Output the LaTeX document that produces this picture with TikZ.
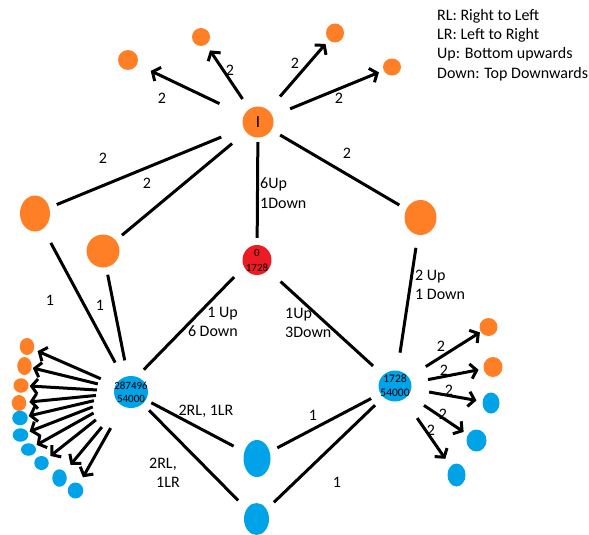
\documentclass[tikz,border=0pt]{standalone}
\usepackage{fontspec}
\setmainfont{Carlito}
\usetikzlibrary{shapes.geometric,arrows.meta}
\definecolor{orng}{RGB}{255,127,39}
\definecolor{blu}{RGB}{0,162,232}
\definecolor{rd}{RGB}{237,28,36}
\begin{document}
\begin{tikzpicture}[x=1pt,y=-1pt,
  blob/.style 2 args={ellipse, draw=none, inner sep=0pt, minimum width=#1pt, minimum height=#2pt},
  onode/.style 2 args={blob={#1}{#2}, fill=orng},
  bnode/.style 2 args={blob={#1}{#2}, fill=blu},
  rnode/.style 2 args={blob={#1}{#2}, fill=rd},
  ln/.style={line width=3pt, black},
  arr/.style={ln, -{Straight Barb[length=6pt,width=15pt]}},
  lbl/.style={inner sep=0pt, font=\fontsize{16}{19.5}\selectfont, align=left},
  numtxt/.style={inner sep=0pt, align=center, font=\fontsize{11}{13}\selectfont}
]
\useasboundingbox (0,0) rectangle (589,535);

% legend
\node[lbl, anchor=north west, font=\fontsize{16}{19.3}\selectfont] (legend) at (437,9)
  {RL: Right to Left\\LR: Left to Right\\Up: Bottom upwards\\Down: Top Downwards};

% main nodes
\node[onode={31}{31}, font=\fontsize{17}{17}\selectfont] (I) at (258,122) {I};
\node[onode={20}{20}] (T1) at (128,60) {};
\node[onode={18}{18}] (T2) at (201,37) {};
\node[onode={18}{19}] (T3) at (335,33) {};
\node[onode={18}{17}] (T4) at (392,67) {};
\node[onode={30}{36}] (LO1) at (35,213.5) {};
\node[onode={33}{33}] (LO2) at (103,251) {};
\node[onode={32}{35}] (RO) at (420.5,217.5) {};
\node[rnode={29}{30}, label={[numtxt, font=\fontsize{11}{15}\selectfont]center:0\\1728}] (R) at (257,260) {};
\node[bnode={34}{32}, label={[numtxt]center:287496\\54000}] (LH) at (131,392) {};
\node[bnode={33}{31}, label={[numtxt, font=\fontsize{11.5}{14}\selectfont]center:1728\\54000}] (RH) at (395,386) {};
\node[bnode={27}{37}] (BA) at (257,458.5) {};
\node[bnode={25}{32}] (BB) at (256.5,519) {};

% right hub leaves
\node[onode={18}{18}] (R1) at (488.5,327) {};
\node[onode={19}{20}] (R2) at (493,367) {};
\node[bnode={17}{21}] (R3) at (491,403) {};
\node[bnode={20}{22}] (R4) at (476.5,440.5) {};
\node[bnode={18}{23}] (R5) at (456.5,475) {};

% left hub leaves
\node[onode={14.5}{17}] (L1) at (27,346.5) {};
\node[onode={14.5}{18}] (L2) at (24.5,366) {};
\node[onode={15}{14.5}] (L3) at (21,385.5) {};
\node[onode={14.5}{16}] (L4) at (19,403) {};
\node[bnode={15.5}{14.5}] (L5) at (20,418) {};
\node[bnode={15.5}{13.5}] (L6) at (20.5,435) {};
\node[bnode={15}{12.5}] (L7) at (28.5,449.5) {};
\node[bnode={14.5}{14}] (L8) at (41.5,463) {};
\node[bnode={14.5}{17.5}] (L9) at (59.5,478) {};
\node[bnode={15.5}{16}] (L10) at (75.5,490.5) {};

% arrows from the top node
\draw[arr, shorten <=27pt, shorten >=15pt] (I) -- (T1);
\draw[arr, shorten <=12pt, shorten >=7pt] (I) -- (T2);
\draw[arr, shorten <=18pt, shorten >=5pt] (I) -- (T3);
\draw[arr, shorten <=19pt, shorten >=5pt] (I) -- (T4);

% plain connectors
\draw[ln, shorten <=24pt, shorten >=8pt] (I) -- (LO1);
\draw[ln, shorten <=18pt, shorten >=8pt] (I) -- (LO2);
\draw[ln, shorten <=4.5pt, shorten >=7pt] (I) -- (R);
\draw[ln, shorten <=10pt, shorten >=8pt] (I) -- (RO);
\draw[ln, shorten <=16pt, shorten >=17pt] (LO1) -- (LH);
\draw[ln, shorten <=7.5pt, shorten >=16pt] (LO2) -- (LH);
\draw[ln, shorten <=14pt, shorten >=10pt] (R.208) -- (LH.69);
\draw[ln, shorten <=17pt, shorten >=13.5pt] (R) -- (RH);
\draw[ln, shorten <=13pt, shorten >=18pt] (RO) -- (RH);
\draw[ln, shorten <=6pt, shorten >=12pt] (LH) -- (BA);
\draw[ln, shorten <=9pt, shorten >=12pt] (LH) -- (BB);
\draw[ln, shorten <=8.5pt, shorten >=10.5pt] (BA) -- (RH);
\draw[ln, shorten <=10pt, shorten >=11.5pt] (BB) -- (RH);

% arrows from the right hub
\draw[arr, shorten <=20pt, shorten >=1pt] (RH) -- (R1);
\draw[arr, shorten <=17pt, shorten >=5pt] (RH) -- (R2);
\draw[arr, shorten <=18pt, shorten >=6pt] (RH) -- (R3);
\draw[arr, shorten <=18.5pt, shorten >=5pt] (RH) -- (R4);
\draw[arr, shorten <=23pt, shorten >=9pt] (RH) -- (R5);

% arrows from the left hub
\draw[arr, shorten <=16pt, shorten >=4pt] (LH) -- (L1);
\draw[arr, shorten <=17pt, shorten >=1pt] (LH) -- (L2);
\draw[arr, shorten <=17pt, shorten >=1pt] (LH) -- (L3);
\draw[arr, shorten <=18pt, shorten >=3pt] (LH) -- (L4);
\draw[arr, shorten <=21pt, shorten >=1pt] (LH) -- (L5);
\draw[arr, shorten <=24pt, shorten >=2pt] (LH) -- (L6);
\draw[arr, shorten <=26pt, shorten >=2pt] (LH) -- (L7);
\draw[arr, shorten <=28pt, shorten >=4pt] (LH) -- (L8);
\draw[arr, shorten <=29pt, shorten >=9pt] (LH) -- (L9);
\draw[arr, shorten <=25pt, shorten >=7pt] (LH) -- (L10);

% edge labels
\node[lbl] (a1) at (162,98) {2};
\node[lbl] (a2) at (230,70) {2};
\node[lbl] (a3) at (295,63) {2};
\node[lbl] (a4) at (339,98) {2};
\node[lbl] (e1) at (103,158) {2};
\node[lbl] (e2) at (147,183) {2};
\node[lbl] (e3) at (347,153) {2};
\node[lbl, anchor=west] (e4) at (260,193) {6Up\\1Down};
\node[lbl] (e5) at (50,300) {1};
\node[lbl] (e6) at (100,305) {1};
\node[lbl, anchor=east, align=right] (e7) at (238,322) {1 Up\\6 Down};
\node[lbl, anchor=west] (e8) at (285,323) {1Up\\3Down};
\node[lbl, anchor=west] (e9) at (415,285) {2 Up\\1 Down};
\node[lbl] (e10) at (206,411) {2RL, 1LR};
\node[lbl, align=center] (e11) at (163,473) {2RL,\\\hspace*{10pt}1LR};
\node[lbl] (e12) at (313,415) {1};
\node[lbl] (e13) at (337,482) {1};
\node[lbl] (b1) at (441,346) {2};
\node[lbl] (b2) at (444,370) {2};
\node[lbl] (b3) at (449,390) {2};
\node[lbl] (b4) at (443,414) {2};
\node[lbl] (b5) at (431,430) {2};
\end{tikzpicture}
\end{document}
